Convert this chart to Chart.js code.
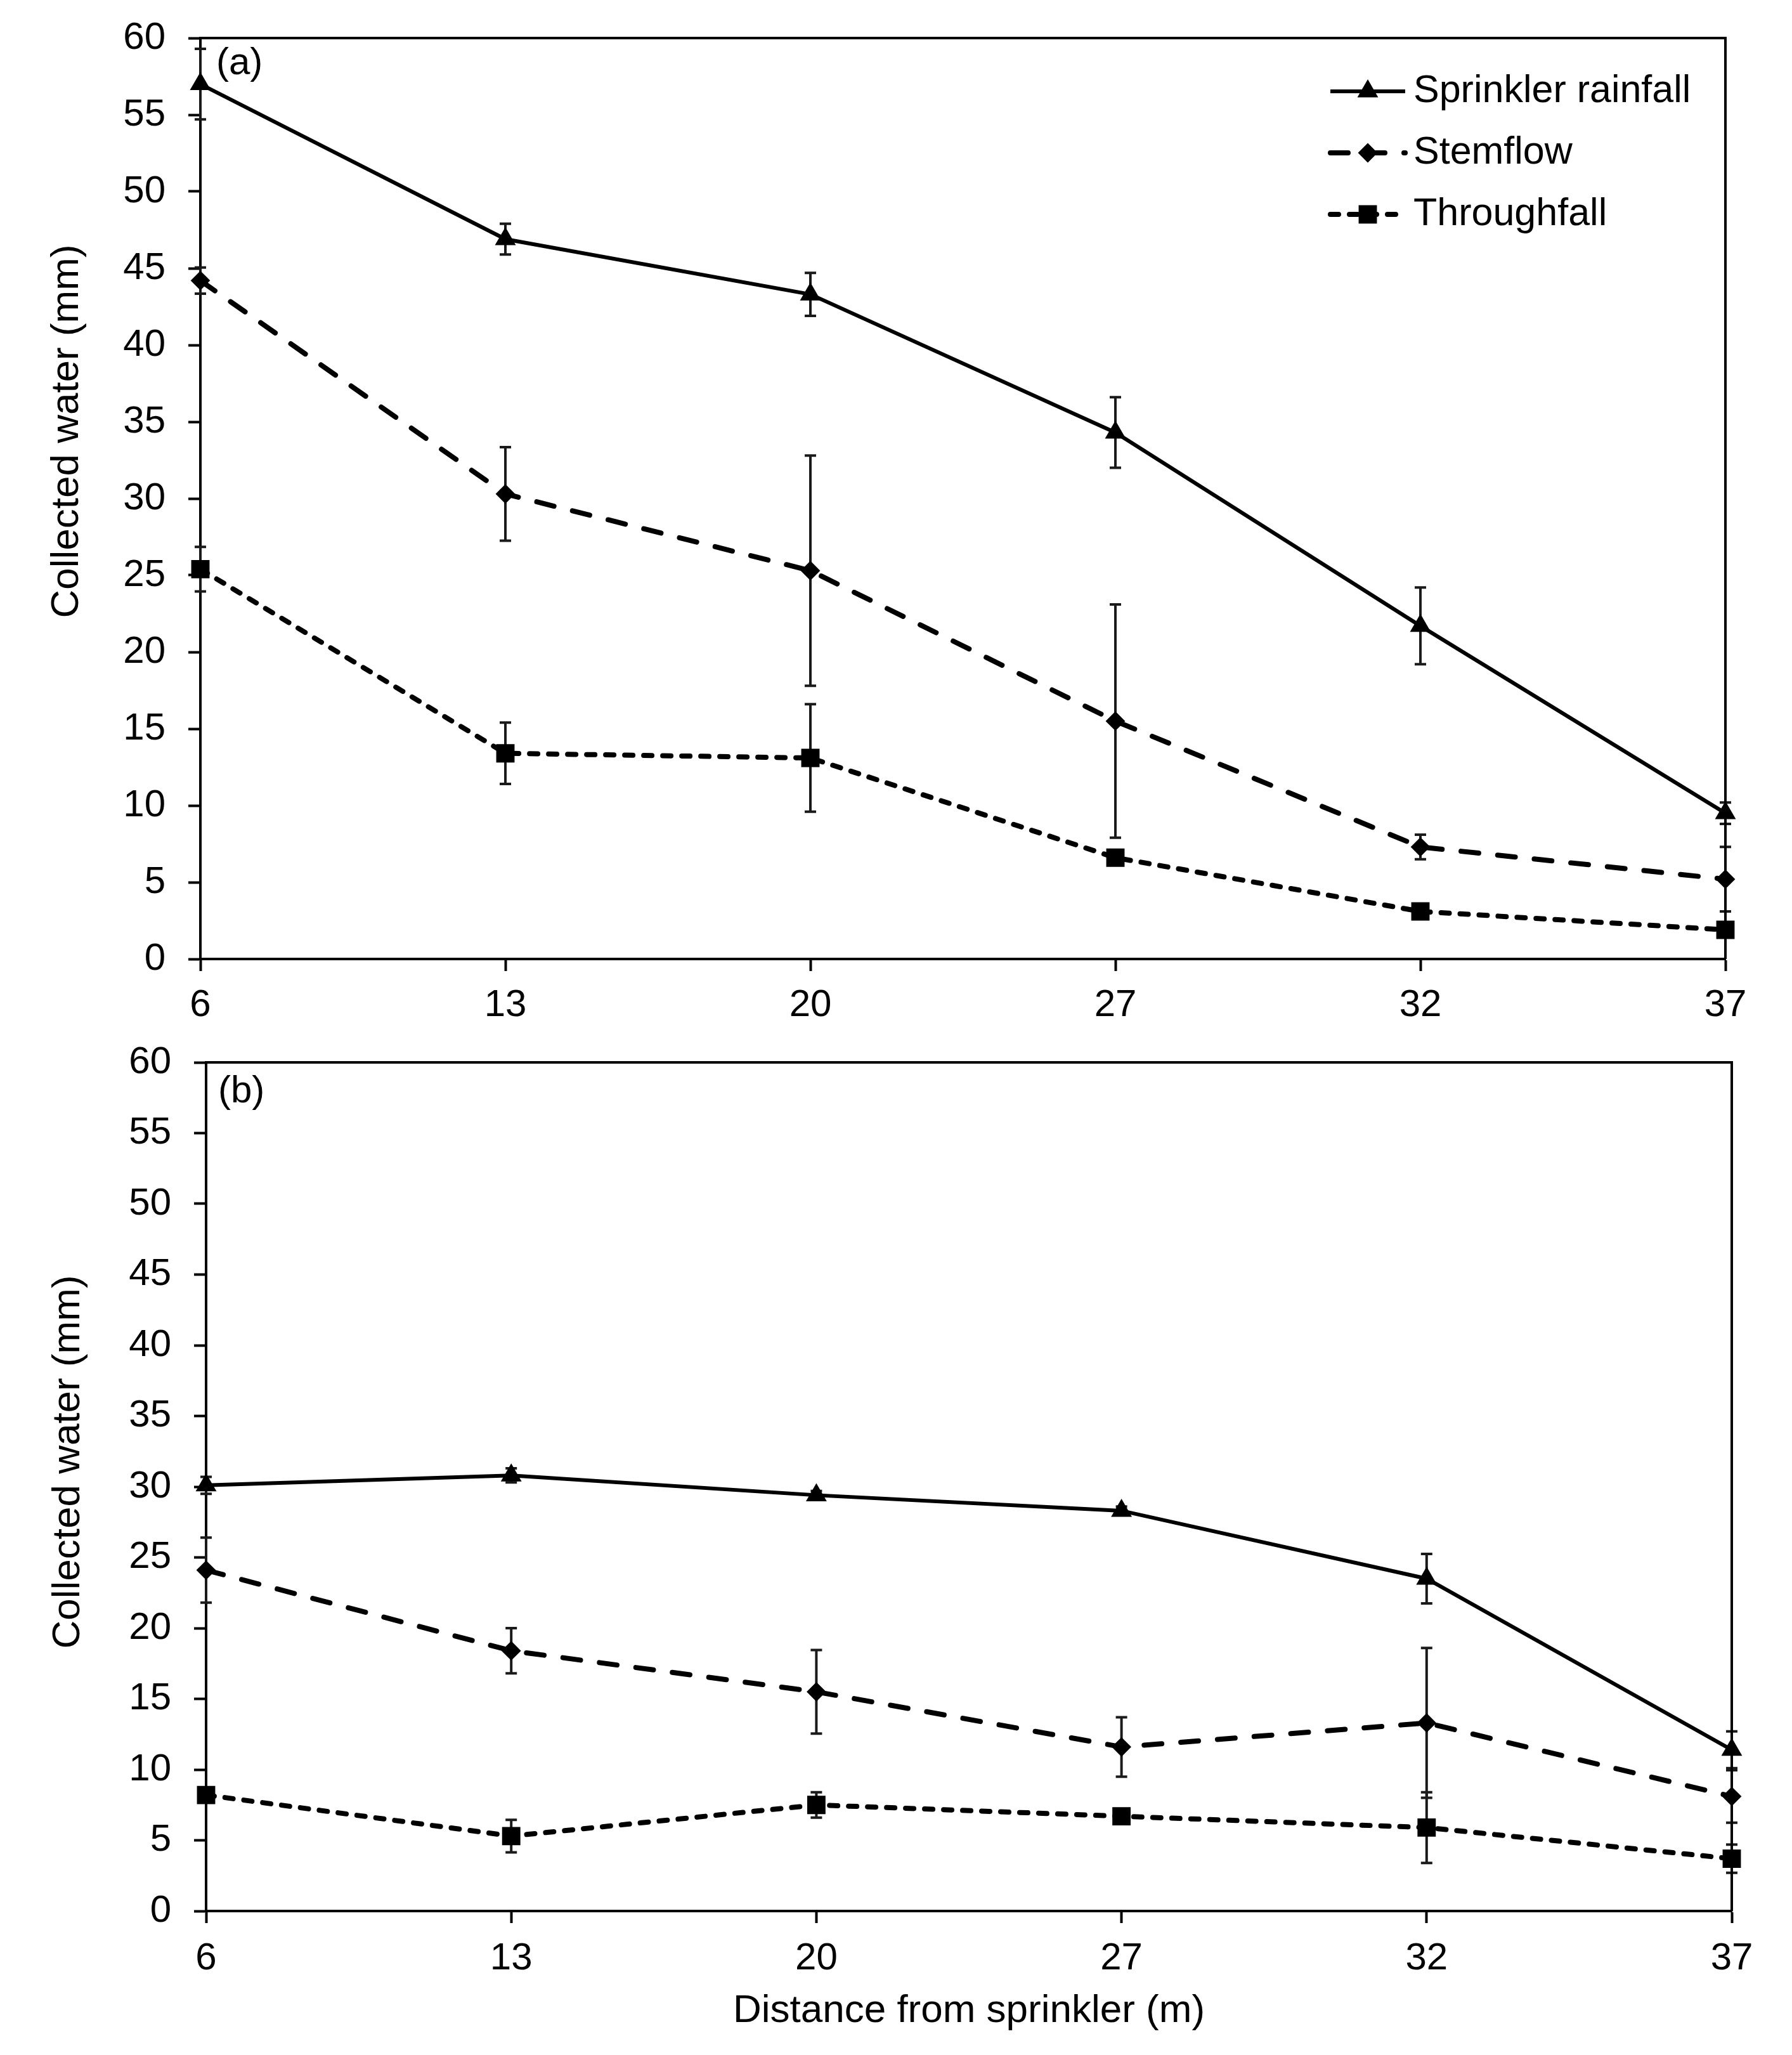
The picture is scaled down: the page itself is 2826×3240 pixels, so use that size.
<!DOCTYPE html>
<html>
<head>
<meta charset="utf-8">
<script src="https://cdn.jsdelivr.net/npm/chart.js@4.4.0/dist/chart.umd.min.js"></script>
<style>
  html, body { margin: 0; padding: 0; background: #fff; }
  #wrap { position: relative; width: 2826px; height: 3240px; }
  .panel { position: absolute; left: 0; width: 2826px; }
</style>
</head>
<body>
<div id="wrap">
  <div class="panel" style="top:0;height:1630px"><canvas id="chartA"></canvas></div>
  <div class="panel" style="top:1630px;height:1610px"><canvas id="chartB"></canvas></div>
</div>
<script>
// =============== Data
const distances = ['6', '13', '20', '27', '32', '37'];
const yTicks = [0, 5, 10, 15, 20, 25, 30, 35, 40, 45, 50, 55, 60];

// panel (a)
const rainfallA = [57.0, 46.9, 43.3, 34.3, 21.7, 9.5];
const rainfallErrA = [2.3, 1.0, 1.4, 2.3, 2.5, 0.7];
const stemflowA = [44.2, 30.3, 25.3, 15.5, 7.3, 5.2];
const stemflowErrA = [0.85, 3.05, 7.5, 7.6, 0.8, 2.1];
const throughfallA = [25.4, 13.4, 13.1, 6.6, 3.1, 1.9];
const throughfallErrA = [1.45, 2.0, 3.5, 0.4, 0.4, 0.5];

// panel (b)
const rainfallB = [30.1, 30.8, 29.4, 28.3, 23.5, 11.4];
const rainfallErrB = [0.6, 0.5, 0.3, 0.3, 1.75, 1.3];
const stemflowB = [24.1, 18.4, 15.5, 11.6, 13.3, 8.1];
const stemflowErrB = [2.3, 1.6, 2.95, 2.1, 5.3, 1.85];
const throughfallB = [8.2, 5.3, 7.5, 6.7, 5.9, 3.7];
const throughfallErrB = [0.3, 1.15, 0.9, 0.2, 2.5, 1.0];

const FONT = '"Liberation Sans", Arial, sans-serif';

// =============== Error bars (drawn under the lines and markers)
const errorBars = {
    id: 'errorBars',
    beforeDatasetsDraw(chart) {
        const ctx = chart.ctx;
        const y = chart.scales.y;
        ctx.save();
        ctx.strokeStyle = '#1a1a1a';
        ctx.lineWidth = 4;
        chart.data.datasets.forEach((ds, i) => {
            chart.getDatasetMeta(i).data.forEach((pt, j) => {
                const top = y.getPixelForValue(ds.data[j] + ds.errors[j]);
                const bot = y.getPixelForValue(ds.data[j] - ds.errors[j]);
                ctx.beginPath();
                ctx.moveTo(pt.x, top); ctx.lineTo(pt.x, bot);
                ctx.moveTo(pt.x - 9, top); ctx.lineTo(pt.x + 9, top);
                ctx.moveTo(pt.x - 9, bot); ctx.lineTo(pt.x + 9, bot);
                ctx.stroke();
            });
        });
        ctx.restore();
    }
};

// =============== Frame, titles, panel label, legend
const decor = {
    id: 'decor',
    afterDraw(chart, args, opts) {
        const ctx = chart.ctx;
        const a = chart.chartArea;
        ctx.save();
        ctx.strokeStyle = '#000';
        ctx.lineWidth = 4;
        ctx.beginPath();
        ctx.moveTo(a.left, a.top);
        ctx.lineTo(a.right, a.top);
        ctx.lineTo(a.right, a.bottom);
        ctx.stroke();

        ctx.fillStyle = '#000';
        ctx.font = '60px ' + FONT;
        ctx.textAlign = 'left';
        ctx.textBaseline = 'middle';
        ctx.fillText(opts.panel, opts.panelX, a.top + opts.panelDy);

        ctx.save();
        ctx.font = '62px ' + FONT;
        ctx.textAlign = 'center';
        ctx.translate(opts.yTitleX, opts.yTitleY);
        ctx.rotate(-Math.PI / 2);
        ctx.fillText('Collected water (mm)', 0, 0);
        ctx.restore();

        if (opts.xTitle) {
            ctx.font = '62px ' + FONT;
            ctx.textAlign = 'center';
            ctx.fillText(opts.xTitle, (a.left + a.right) / 2, opts.xTitleY);
        }

        if (opts.legend) {
            chart.data.datasets.forEach((ds, i) => {
                const yc = 144 + i * 97;
                ctx.lineWidth = ds.borderWidth;
                ctx.lineCap = ds.borderCapStyle || 'butt';
                ctx.setLineDash(ds.borderDash || []);
                ctx.beginPath();
                ctx.moveTo(2098, yc);
                ctx.lineTo(2216, yc);
                ctx.stroke();
                ctx.setLineDash([]);
                ctx.lineWidth = ds.pointBorderWidth;
                Chart.helpers.drawPoint(ctx, {
                    pointStyle: ds.pointStyle, radius: ds.pointRadius,
                    borderWidth: ds.pointBorderWidth, rotation: 0
                }, 2157, yc);
                ctx.font = '61px ' + FONT;
                ctx.textAlign = 'left';
                ctx.fillText(ds.label, 2229, yc);
            });
        }
        ctx.restore();
    }
};

function makeDatasets(rain, rainErr, stem, stemErr, thr, thrErr) {
    return [{
        label: 'Sprinkler rainfall',
        data: rain, errors: rainErr,
        borderColor: '#000', backgroundColor: '#000',
        borderWidth: 6,
        pointStyle: 'triangle', pointRadius: 17, pointBorderWidth: 2
    }, {
        label: 'Stemflow',
        data: stem, errors: stemErr,
        borderColor: '#000', backgroundColor: '#000',
        borderWidth: 8, borderDash: [28, 30], borderCapStyle: 'round',
        pointStyle: 'rectRot', pointRadius: 14, pointBorderWidth: 2
    }, {
        label: 'Throughfall',
        data: thr, errors: thrErr,
        borderColor: '#000', backgroundColor: '#000',
        borderWidth: 8, borderDash: [13, 17], borderCapStyle: 'round',
        pointStyle: 'rect', pointRadius: 19, pointBorderWidth: 2
    }];
}

function makeChart(id, datasets, lay, decorOpts) {
    return new Chart(document.getElementById(id), {
        type: 'line',
        data: { labels: distances, datasets: datasets },
        plugins: [errorBars, decor],
        options: {
            responsive: true,
            maintainAspectRatio: false,
            devicePixelRatio: 1,
            animation: false,
            events: [],
            datasets: { line: { clip: false, tension: 0, fill: false } },
            layout: { padding: { top: lay.top, right: lay.right, left: 0, bottom: 0 } },
            plugins: {
                legend: { display: false },
                tooltip: { enabled: false },
                decor: decorOpts
            },
            scales: {
                x: {
                    type: 'category',
                    offset: false,
                    grid: { drawOnChartArea: false, drawTicks: true, tickLength: 19, tickWidth: 4, tickColor: '#000' },
                    border: { display: true, color: '#000', width: 4 },
                    ticks: { color: '#000', font: { family: FONT, size: 60 }, padding: lay.xPad, maxRotation: 0, autoSkip: false },
                    afterFit: s => {
                        s.height = lay.xHeight;
                        s.paddingLeft = 0; s.paddingRight = 0;
                    }
                },
                y: {
                    min: 0, max: 60,
                    afterBuildTicks: s => { s.ticks = yTicks.map(v => ({ value: v })); },
                    grid: { drawOnChartArea: false, drawTicks: true, tickLength: 19, tickWidth: 4, tickColor: '#000' },
                    border: { display: true, color: '#000', width: 4 },
                    ticks: { color: '#000', font: { family: FONT, size: 60 }, padding: 36 },
                    afterFit: s => {
                        s.width = lay.yWidth;
                        s.paddingTop = 0; s.paddingBottom = 0;
                    }
                }
            }
        }
    });
}

// =============== Panel (a)
makeChart('chartA',
    makeDatasets(rainfallA, rainfallErrA, stemflowA, stemflowErrA, throughfallA, throughfallErrA),
    { top: 60, right: 105, yWidth: 316, xHeight: 118, xPad: 18 },
    { panel: '(a)', panelX: 341, panelDy: 40, yTitleX: 106, yTitleY: 680, legend: true });

// =============== Panel (b)
makeChart('chartB',
    makeDatasets(rainfallB, rainfallErrB, stemflowB, stemflowErrB, throughfallB, throughfallErrB),
    { top: 45, right: 95, yWidth: 325, xHeight: 227, xPad: 20 },
    { panel: '(b)', panelX: 344, panelDy: 46, yTitleX: 108, yTitleY: 675,
      xTitle: 'Distance from sprinkler (m)', xTitleY: 1541 });
</script>
</body>
</html>
